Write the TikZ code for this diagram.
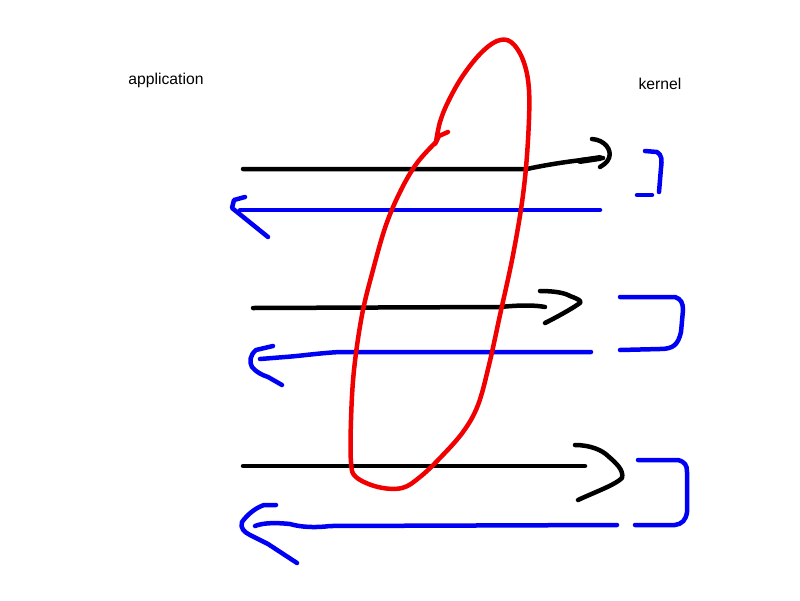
\documentclass[tikz,border=0pt]{standalone}
\usepackage{fontspec}
\setmainfont{Liberation Sans}
\begin{document}
\begin{tikzpicture}[x=1pt,y=-1pt,
  pen/.style={line width=4.5pt,line cap=round,line join=round},
  blk/.style={pen,draw=black},
  blu/.style={pen,draw={rgb,255:red,0;green,0;blue,245}},
  redpen/.style={pen,draw={rgb,255:red,240;green,0;blue,0}},
  lbl/.style={font=\fontsize{15.7}{18}\selectfont,inner sep=0pt}]
\useasboundingbox[fill=white] (0,0) rectangle (800,600);
\node[lbl] (app) at (166,80) {application};
\node[lbl] (ker) at (660,84) {kernel};
% row 1
\draw[blk] (243,169) -- (527,169) .. controls (545,165) and (575,160) .. (603,158);
\draw[blk] (592,139) .. controls (605,140) and (612,150) .. (609,158) .. controls (607,163) and (603,165) .. (600,167);
\draw[blk,line width=6pt] (580,161) -- (600,158);
\draw[blu] (645,151) -- (657,152) .. controls (662,155) and (662,160) .. (661,168) -- (659,192);
\draw[blu] (637,195) -- (652,195);
\draw[blu] (600,210) -- (240,210);
\draw[blu] (245,197) -- (234,200) -- (232,208) -- (242,216) -- (268,237);
% row 2
\draw[blk] (253,308) -- (500,307) .. controls (520,305) and (535,305) .. (545,307);
\draw[blk] (540,291) .. controls (555,291) and (565,293) .. (570,296) .. controls (578,299) and (582,301) .. (580,303) .. controls (570,310) and (555,318) .. (545,323);
\draw[blu] (620,297) -- (675,297) .. controls (681,299) and (683,303) .. (683,310) -- (681,332) .. controls (678,345) and (673,349) .. (660,349) -- (620,350);
\draw[blu] (591,352) -- (340,352) .. controls (320,353) and (300,356) .. (285,357) -- (260,359);
\draw[blu] (273,346) -- (256,350) .. controls (250,355) and (249,362) .. (252,367) .. controls (256,372) and (262,375) .. (268,377) -- (282,385);
% row 3
\draw[blk] (243,466) -- (585,466);
\draw[blk] (575,445) .. controls (590,445) and (602,450) .. (608,456) .. controls (616,463) and (624,470) .. (622,478) .. controls (615,485) and (595,492) .. (578,500);
\draw[blu] (638,460) -- (678,460) .. controls (685,462) and (687,465) .. (687,472) -- (687,512) .. controls (686,520) and (682,524) .. (675,525) -- (635,525);
\draw[blu] (617,525) -- (330,526) .. controls (315,528) and (300,527) .. (290,524) .. controls (280,523) and (265,522) .. (255,526);
\draw[blu] (276,505) -- (264,505) .. controls (255,508) and (247,515) .. (242,522) .. controls (240,528) and (244,532) .. (250,535) -- (268,544) -- (297,563);
% red loop
\draw[redpen] plot[smooth,tension=0.6] coordinates {(436,142) (417,163) (401,190) (386,225) (373,270) (362,315) (354,370) (351,420) (351,462) (356,477) (378,487) (402,488) (420,477) (440,458) (463,432) (478,405) (489,365) (500,315) (513,255) (523,195) (528,140) (529,90) (523,60) (511,42) (497,41) (480,54) (462,77) (448,102) (440,122) (436,142)};
\draw[redpen] (448,132) -- (439,136) -- (435,144);
\end{tikzpicture}
\end{document}
